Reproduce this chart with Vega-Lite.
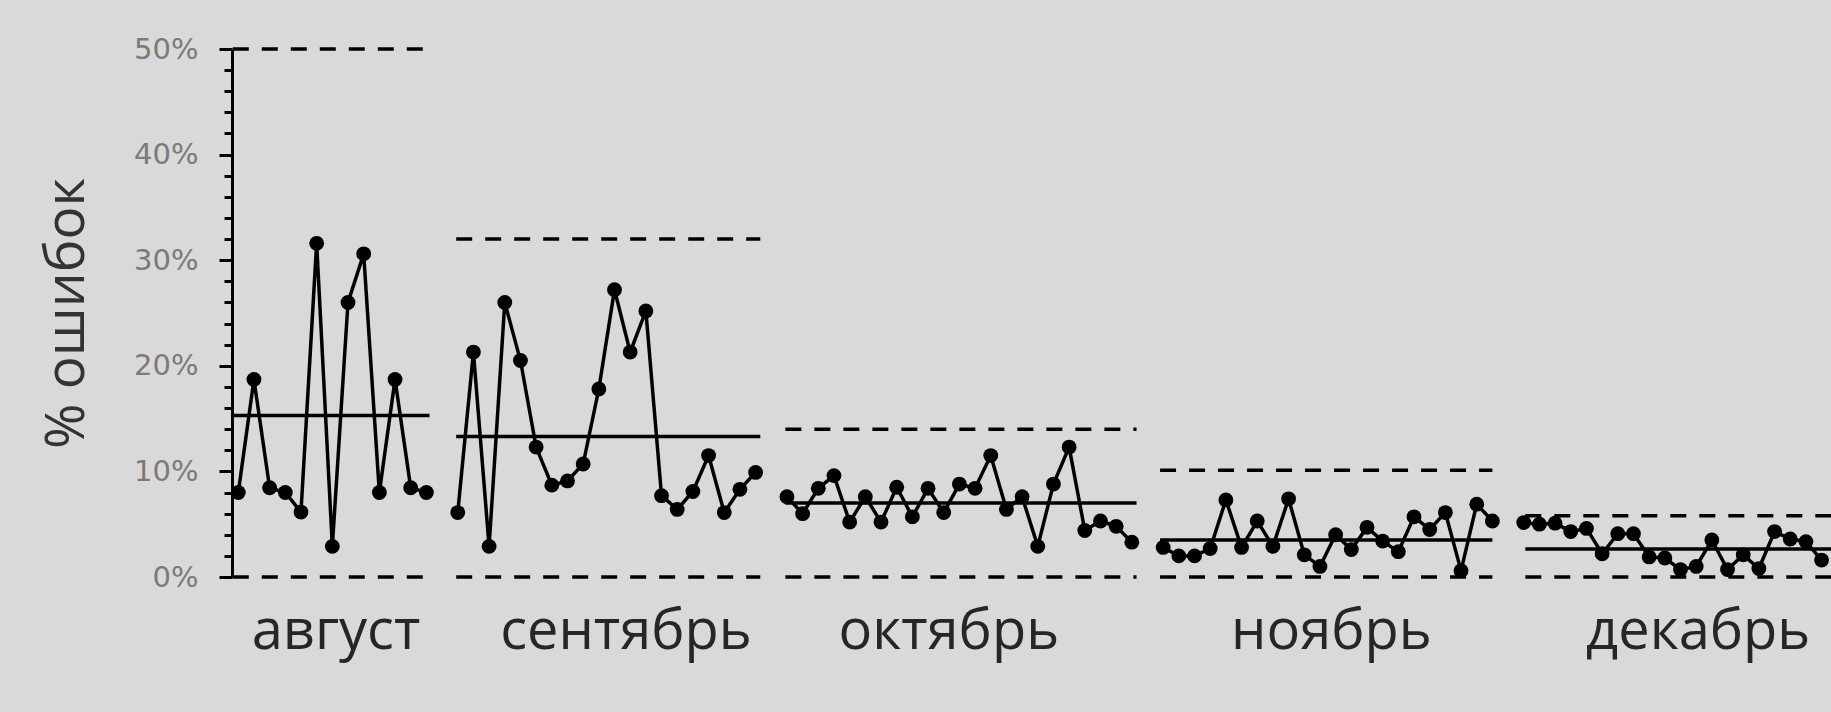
{
  "$schema": "https://vega.github.io/schema/vega-lite/v6.json",
  "width": 1599,
  "height": 528,
  "autosize": {"type": "none"},
  "padding": {"left": 232, "top": 49, "right": 0, "bottom": 135},
  "background": "#d9d9d9",
  "config": {"view": {"stroke": null}},
  "datasets": {
    "points": [
      {"month": "август", "idx": 0, "pct": 8.0},
      {"month": "август", "idx": 1, "pct": 18.7},
      {"month": "август", "idx": 2, "pct": 8.45},
      {"month": "август", "idx": 3, "pct": 8.0},
      {"month": "август", "idx": 4, "pct": 6.15},
      {"month": "август", "idx": 5, "pct": 31.6},
      {"month": "август", "idx": 6, "pct": 2.9},
      {"month": "август", "idx": 7, "pct": 26.0},
      {"month": "август", "idx": 8, "pct": 30.6},
      {"month": "август", "idx": 9, "pct": 8.0},
      {"month": "август", "idx": 10, "pct": 18.7},
      {"month": "август", "idx": 11, "pct": 8.45},
      {"month": "август", "idx": 12, "pct": 8.0},
      {"month": "сентябрь", "idx": 14, "pct": 6.1},
      {"month": "сентябрь", "idx": 15, "pct": 21.3},
      {"month": "сентябрь", "idx": 16, "pct": 2.9},
      {"month": "сентябрь", "idx": 17, "pct": 26.0},
      {"month": "сентябрь", "idx": 18, "pct": 20.5},
      {"month": "сентябрь", "idx": 19, "pct": 12.3},
      {"month": "сентябрь", "idx": 20, "pct": 8.7},
      {"month": "сентябрь", "idx": 21, "pct": 9.1},
      {"month": "сентябрь", "idx": 22, "pct": 10.7},
      {"month": "сентябрь", "idx": 23, "pct": 17.8},
      {"month": "сентябрь", "idx": 24, "pct": 27.2},
      {"month": "сентябрь", "idx": 25, "pct": 21.3},
      {"month": "сентябрь", "idx": 26, "pct": 25.2},
      {"month": "сентябрь", "idx": 27, "pct": 7.7},
      {"month": "сентябрь", "idx": 28, "pct": 6.4},
      {"month": "сентябрь", "idx": 29, "pct": 8.1},
      {"month": "сентябрь", "idx": 30, "pct": 11.5},
      {"month": "сентябрь", "idx": 31, "pct": 6.1},
      {"month": "сентябрь", "idx": 32, "pct": 8.3},
      {"month": "сентябрь", "idx": 33, "pct": 9.9},
      {"month": "октябрь", "idx": 35, "pct": 7.6},
      {"month": "октябрь", "idx": 36, "pct": 6.0},
      {"month": "октябрь", "idx": 37, "pct": 8.4},
      {"month": "октябрь", "idx": 38, "pct": 9.6},
      {"month": "октябрь", "idx": 39, "pct": 5.2},
      {"month": "октябрь", "idx": 40, "pct": 7.6},
      {"month": "октябрь", "idx": 41, "pct": 5.2},
      {"month": "октябрь", "idx": 42, "pct": 8.5},
      {"month": "октябрь", "idx": 43, "pct": 5.7},
      {"month": "октябрь", "idx": 44, "pct": 8.4},
      {"month": "октябрь", "idx": 45, "pct": 6.1},
      {"month": "октябрь", "idx": 46, "pct": 8.8},
      {"month": "октябрь", "idx": 47, "pct": 8.4},
      {"month": "октябрь", "idx": 48, "pct": 11.5},
      {"month": "октябрь", "idx": 49, "pct": 6.4},
      {"month": "октябрь", "idx": 50, "pct": 7.6},
      {"month": "октябрь", "idx": 51, "pct": 2.9},
      {"month": "октябрь", "idx": 52, "pct": 8.8},
      {"month": "октябрь", "idx": 53, "pct": 12.3},
      {"month": "октябрь", "idx": 54, "pct": 4.4},
      {"month": "октябрь", "idx": 55, "pct": 5.3},
      {"month": "октябрь", "idx": 56, "pct": 4.8},
      {"month": "октябрь", "idx": 57, "pct": 3.3},
      {"month": "ноябрь", "idx": 59, "pct": 2.8},
      {"month": "ноябрь", "idx": 60, "pct": 2.0},
      {"month": "ноябрь", "idx": 61, "pct": 2.0},
      {"month": "ноябрь", "idx": 62, "pct": 2.7},
      {"month": "ноябрь", "idx": 63, "pct": 7.3},
      {"month": "ноябрь", "idx": 64, "pct": 2.8},
      {"month": "ноябрь", "idx": 65, "pct": 5.3},
      {"month": "ноябрь", "idx": 66, "pct": 2.9},
      {"month": "ноябрь", "idx": 67, "pct": 7.4},
      {"month": "ноябрь", "idx": 68, "pct": 2.1},
      {"month": "ноябрь", "idx": 69, "pct": 1.0},
      {"month": "ноябрь", "idx": 70, "pct": 4.0},
      {"month": "ноябрь", "idx": 71, "pct": 2.6},
      {"month": "ноябрь", "idx": 72, "pct": 4.7},
      {"month": "ноябрь", "idx": 73, "pct": 3.4},
      {"month": "ноябрь", "idx": 74, "pct": 2.4},
      {"month": "ноябрь", "idx": 75, "pct": 5.7},
      {"month": "ноябрь", "idx": 76, "pct": 4.5},
      {"month": "ноябрь", "idx": 77, "pct": 6.1},
      {"month": "ноябрь", "idx": 78, "pct": 0.6},
      {"month": "ноябрь", "idx": 79, "pct": 6.9},
      {"month": "ноябрь", "idx": 80, "pct": 5.3},
      {"month": "декабрь", "idx": 82, "pct": 5.15},
      {"month": "декабрь", "idx": 83, "pct": 5.0},
      {"month": "декабрь", "idx": 84, "pct": 5.1},
      {"month": "декабрь", "idx": 85, "pct": 4.3},
      {"month": "декабрь", "idx": 86, "pct": 4.6},
      {"month": "декабрь", "idx": 87, "pct": 2.2},
      {"month": "декабрь", "idx": 88, "pct": 4.1},
      {"month": "декабрь", "idx": 89, "pct": 4.1},
      {"month": "декабрь", "idx": 90, "pct": 1.9},
      {"month": "декабрь", "idx": 91, "pct": 1.8},
      {"month": "декабрь", "idx": 92, "pct": 0.7},
      {"month": "декабрь", "idx": 93, "pct": 1.0},
      {"month": "декабрь", "idx": 94, "pct": 3.5},
      {"month": "декабрь", "idx": 95, "pct": 0.7},
      {"month": "декабрь", "idx": 96, "pct": 2.1},
      {"month": "декабрь", "idx": 97, "pct": 0.8},
      {"month": "декабрь", "idx": 98, "pct": 4.3},
      {"month": "декабрь", "idx": 99, "pct": 3.6},
      {"month": "декабрь", "idx": 100, "pct": 3.35},
      {"month": "декабрь", "idx": 101, "pct": 1.6}
    ],
    "limits": [
      {"month": "август", "start": -0.35, "end": 12.2, "mean": 15.3, "ucl": 50, "lcl": 0},
      {"month": "сентябрь", "start": 13.9, "end": 33.3, "mean": 13.3, "ucl": 32.0, "lcl": 0},
      {"month": "октябрь", "start": 34.9, "end": 57.3, "mean": 7.0, "ucl": 14.0, "lcl": 0},
      {"month": "ноябрь", "start": 58.8, "end": 80.0, "mean": 3.5, "ucl": 10.1, "lcl": 0},
      {"month": "декабрь", "start": 82.1, "end": 101.6, "mean": 2.65, "ucl": 5.8, "lcl": 0}
    ]
  },
  "layer": [
    {
      "data": {"name": "points"},
      "mark": {"type": "line", "color": "black", "strokeWidth": 3.5, "point": {"filled": true, "size": 220, "color": "black", "opacity": 1}},
      "encoding": {
        "x": {
          "field": "idx", "type": "quantitative",
          "scale": {"domain": [-0.4, 101.6], "nice": false, "zero": false},
          "axis": {
            "title": null,
            "values": [6.2, 24.7, 45.3, 69.7, 93.1],
            "tickCount": 10,
            "labelExpr": "datum.value < 15 ? 'август' : datum.value < 35 ? 'сентябрь' : datum.value < 58 ? 'октябрь' : datum.value < 81 ? 'ноябрь' : 'декабрь'",
            "domain": false, "ticks": false, "tickSize": 0, "grid": false,
            "labelFont": "Open Sans", "labelFontSize": 56, "labelColor": "#262626",
            "labelPadding": 71, "labelBaseline": "alphabetic", "labelAlign": "center",
            "labelFlush": false, "labelOverlap": false, "labelLimit": 400
          }
        },
        "y": {
          "field": "pct", "type": "quantitative",
          "scale": {"domain": [0, 50], "nice": false, "zero": true},
          "axis": {
            "title": "% ошибок",
            "titleFont": "Open Sans", "titleFontSize": 55, "titleFontWeight": "normal", "titleColor": "#333333",
            "titlePadding": 38,
            "values": [0, 2, 4, 6, 8, 10, 12, 14, 16, 18, 20, 22, 24, 26, 28, 30, 32, 34, 36, 38, 40, 42, 44, 46, 48, 50],
            "tickCount": 40,
            "labelExpr": "datum.value % 10 === 0 ? datum.value + '%' : ''",
            "tickSize": {"condition": {"test": "datum.value % 10 === 0", "value": 13}, "value": 8},
            "tickWidth": 3, "tickColor": "black",
            "domainColor": "black", "domainWidth": 3,
            "grid": false,
            "labelFont": "DejaVu Sans", "labelFontSize": 29, "labelColor": "#7a7a7a",
            "labelPadding": 21, "labelBaseline": "middle", "labelFlush": false, "labelOverlap": false,
            "labelSeparation": 0
          }
        },
        "detail": {"field": "month"}
      }
    },
    {
      "data": {"name": "limits"},
      "mark": {"type": "rule", "color": "black", "strokeWidth": 3.5, "strokeDash": [16, 13]},
      "encoding": {
        "x": {"field": "start", "type": "quantitative"},
        "x2": {"field": "end"},
        "y": {"field": "ucl", "type": "quantitative"}
      }
    },
    {
      "data": {"name": "limits"},
      "mark": {"type": "rule", "color": "black", "strokeWidth": 3.5, "strokeDash": [16, 13]},
      "encoding": {
        "x": {"field": "start", "type": "quantitative"},
        "x2": {"field": "end"},
        "y": {"field": "lcl", "type": "quantitative"}
      }
    },
    {
      "data": {"name": "limits"},
      "mark": {"type": "rule", "color": "black", "strokeWidth": 3.5},
      "encoding": {
        "x": {"field": "start", "type": "quantitative"},
        "x2": {"field": "end"},
        "y": {"field": "mean", "type": "quantitative"}
      }
    }
  ]
}
